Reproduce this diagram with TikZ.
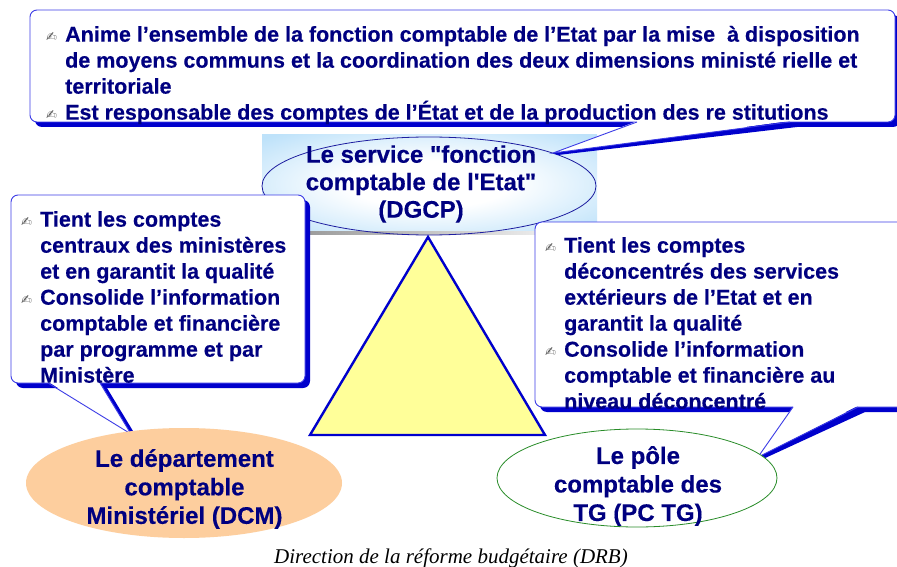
\documentclass[tikz,border=0pt]{standalone}
\usepackage{fontspec}
\newfontfamily\arialf{Liberation Sans}[BoldFeatures={FakeBold=0.35}]
\newfontfamily\timesf{Liberation Serif}
\newfontfamily\symf{DejaVu Sans}
\definecolor{navytext}{RGB}{0,0,128}
\definecolor{shadowblue}{RGB}{0,0,204}
\definecolor{lineblue}{RGB}{60,60,230}
\definecolor{bulgray}{RGB}{90,90,90}
\definecolor{bglight}{RGB}{190,226,250}
\definecolor{trifill}{RGB}{255,255,153}
\definecolor{peach}{RGB}{253,206,158}
\definecolor{ellgreen}{RGB}{40,140,40}
\definecolor{ellnavy}{RGB}{30,30,160}
\pgfdeclareradialshading{dgcpbg}{\pgfpoint{0bp}{0bp}}{color(0bp)=(white); color(12bp)=(white); color(34bp)=(bglight); color(60bp)=(bglight)}
\tikzset{
  boxtext/.style={align=left, inner sep=0pt, text=navytext, font=\arialf\bfseries\fontsize{21.5}{26}\selectfont},
  elltext/.style={align=center, inner sep=0pt, text=navytext, font=\arialf\bfseries\fontsize{24}{28.5}\selectfont},
  ellbase/.style={ellipse, inner sep=0pt},
  captext/.style={inner sep=0pt, font=\timesf\itshape\fontsize{21}{24}\selectfont},
}
\newcommand\bul{\makebox[19pt][l]{\raisebox{0.5pt}{\symf\fontsize{13}{13}\selectfont\color{bulgray}✍}}}
\newcommand\ind{\hspace*{19pt}}
% callout: x1 y1 x2 y2 base-left-x base-right-x tip-x tip-y
\newcommand\calloutbox[8]{%
  \fill[shadowblue, rounded corners=7pt] (#1+5,#2+5) rectangle (#3+5,#4+5);
  \fill[shadowblue] (#6-1,#4) -- (#6+7,#4+5) -- (#7+5,#8+2) -- (#7,#8) -- cycle;
  \filldraw[fill=white, draw=lineblue, line width=0.9pt, rounded corners=7pt] (#1,#2) rectangle (#3,#4);
  \fill[white] (#5+0.6,#4-1) -- (#6-0.6,#4-1) -- (#7,#8) -- cycle;
  \draw[lineblue, line width=0.9pt] (#5,#4) -- (#7,#8) -- (#6,#4);
}
\usetikzlibrary{shapes.geometric}
\begin{document}
\begin{tikzpicture}[x=1pt,y=-1pt]
\useasboundingbox (0,0) rectangle (897,567);
\fill[white] (0,0) rectangle (897,567);

% DGCP background and ellipse
\shade[shading=dgcpbg] (262,135) rectangle (597,233);
\shade[left color=black!45, right color=white] (262,231) rectangle (597,234);
\node[ellbase, draw=ellnavy, line width=0.8pt, minimum width=334pt, minimum height=98pt] (dgcp) at (429,186) {};
\node[elltext, font=\arialf\bfseries\fontsize{24}{27.5}\selectfont] (dgcptext) at (421,184) {Le service "fonction\\comptable de l'Etat"\\(DGCP)};

% triangle
\filldraw[fill=trifill, draw=shadowblue, line width=2.4pt, line join=miter] (428,237) -- (310,435) -- (545,435) -- cycle;

% callouts
\calloutbox{11}{195}{305}{383}{48}{100}{131}{434}
\calloutbox{535}{222}{912}{407}{793}{858}{758}{457}
\calloutbox{30}{10}{895}{122}{637}{790}{553}{153}

\node[boxtext, anchor=west] (toptext) at (46,75) {\bul Anime l’ensemble de la fonction comptable de l’Etat par la mise \ à disposition\\
\ind de moyens communs et la coordination des deux dimensions ministé rielle et\\
\ind territoriale\\
\bul Est responsable des comptes de l’État et de la production des re stitutions};

\node[boxtext, anchor=west] (lefttext) at (21,297) {\bul Tient les comptes\\
\ind centraux des ministères\\
\ind et en garantit la qualité\\
\bul Consolide l’information\\
\ind comptable et financière\\
\ind par programme et par\\
\ind Ministère};

\node[boxtext, anchor=west] (righttext) at (545,323) {\bul Tient les comptes\\
\ind déconcentrés des services\\
\ind extérieurs de l’Etat et en\\
\ind garantit la qualité\\
\bul Consolide l’information\\
\ind comptable et financière au\\
\ind niveau déconcentré};

% bottom ellipses
\node[ellbase, fill=peach, minimum width=316pt, minimum height=110pt] (dcm) at (184,483) {};
\node[elltext] (dcmtext) at (184.5,489) {Le département\\comptable\\Ministériel (DCM)};
\node[ellbase, fill=white, draw=ellgreen, line width=0.8pt, minimum width=280pt, minimum height=98pt] (pctg) at (637,478) {};
\node[elltext] (pctgtext) at (638,486) {Le pôle\\comptable des\\TG (PC TG)};

% caption
\node[captext, anchor=base] (caption) at (451,563) {Direction de la réforme budgétaire (DRB)};
\end{tikzpicture}
\end{document}
